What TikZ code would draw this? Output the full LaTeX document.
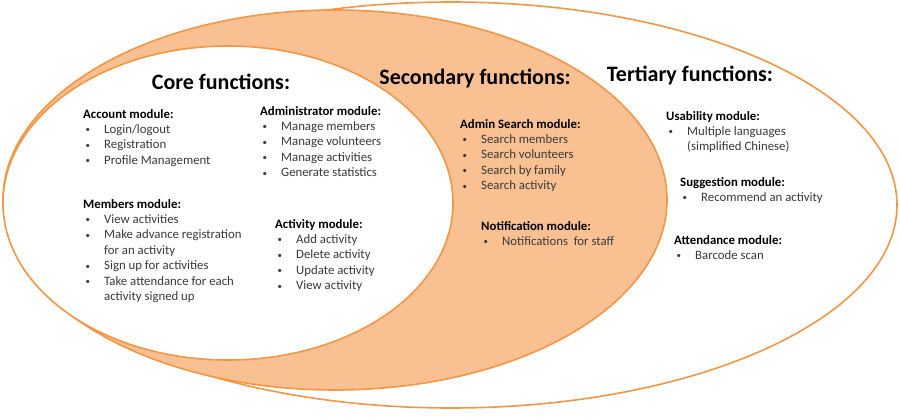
\documentclass[tikz,border=0pt]{standalone}
\usepackage{fontspec}
\setmainfont{Carlito}
\usepackage{tikz}
\usetikzlibrary{shapes.geometric, positioning}
\definecolor{ringline}{HTML}{F39645}
\definecolor{ringfill}{HTML}{F9C092}
\definecolor{itemtext}{HTML}{3A3A3A}
\newcommand{\hd}[1]{\strut\textbf{#1}}
\newcommand{\itm}[1]{\textcolor{itemtext}{\makebox[21pt][l]{\hspace{2.5pt}\raisebox{0.6pt}{\scalebox{0.7}{\textbullet}}}#1}}
\newcommand{\cnt}[1]{\textcolor{itemtext}{\hspace*{21pt}#1}}

\begin{document}
\begin{tikzpicture}[x=1pt, y=-1pt,
  ring/.style={ellipse, draw=ringline, line width=1.6pt, inner sep=0pt},
  title/.style={font=\fontsize{22}{26}\selectfont\bfseries, inner sep=0pt},
  module/.style={anchor=north west, yshift=10.8pt, align=left, inner sep=0pt,
                 font=\fontsize{12.8}{15.4}\selectfont}
]
  \useasboundingbox (0,0) rectangle (900,420);
  % nested rings
  \node[ring, fill=white, minimum width=892pt, minimum height=406pt] (tertiary) at (451,205) {};
  \node[ring, fill=ringfill, minimum width=664pt, minimum height=380pt] (secondary) at (335,200) {};
  \node[ring, fill=white, minimum width=450pt, minimum height=314pt] (core) at (228,203) {};

  % titles
  \node[title] (coretitle) at (221,82) {Core functions:};
  \node[title] (sectitle) at (475,78) {Secondary functions:};
  \node[title] (tertitle) at (690,75) {Tertiary functions:};

  % core modules
  \node[module] (account) at (83,118) {\hd{Account module:}\\ \itm{Login/logout}\\
    \itm{Registration}\\ \itm{Profile Management}};
  \node[module] (admin) at (260,115) {\hd{Administrator module:}\\ \itm{Manage members}\\
    \itm{Manage volunteers}\\ \itm{Manage activities}\\ \itm{Generate statistics}};
  \node[module] (members) at (83,208) {\hd{Members module:}\\ \itm{View activities}\\
    \itm{Make advance registration}\\ \cnt{for an activity}\\ \itm{Sign up for activities}\\
    \itm{Take attendance for each}\\ \cnt{activity signed up}};
  \node[module] (activity) at (275,228) {\hd{Activity module:}\\ \itm{Add activity}\\
    \itm{Delete activity}\\ \itm{Update activity}\\ \itm{View activity}};

  % secondary modules
  \node[module] (search) at (460,128) {\hd{Admin Search module:}\\ \itm{Search members}\\
    \itm{Search volunteers}\\ \itm{Search by family}\\ \itm{Search activity}};
  \node[module] (notify) at (481,230) {\hd{Notification module:}\\ \itm{Notifications\ \ for staff}};

  % tertiary modules
  \node[module] (usability) at (666,120) {\hd{Usability module:}\\ \itm{Multiple languages}\\
    \cnt{(simplified Chinese)}};
  \node[module] (suggest) at (680,186) {\hd{Suggestion module:}\\ \itm{Recommend an activity}};
  \node[module] (attend) at (674,244) {\hd{Attendance module:}\\ \itm{Barcode scan}};
\end{tikzpicture}
\end{document}
